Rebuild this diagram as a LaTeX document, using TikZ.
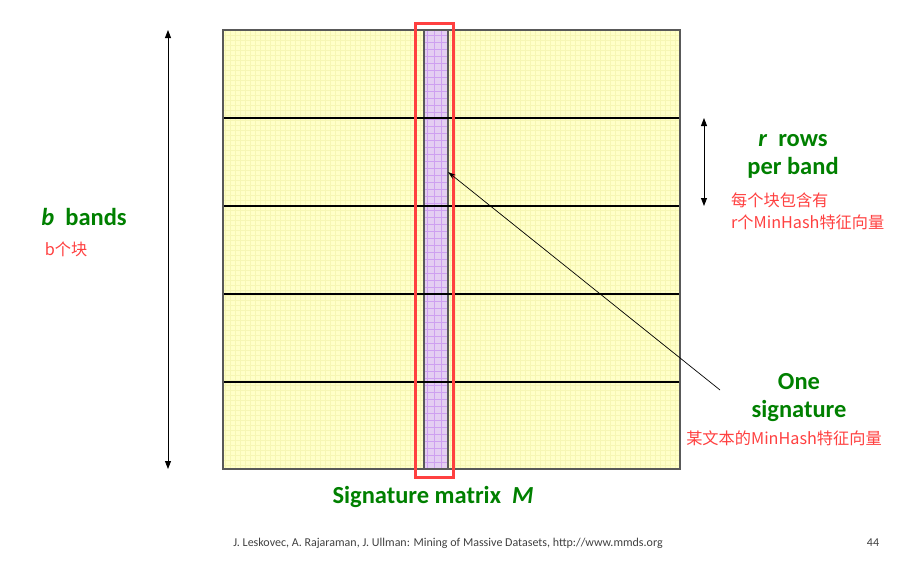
\documentclass[tikz,border=0pt]{standalone}
\usepackage{fontspec}
\setmainfont{Carlito}
\newfontfamily\cjk{Noto Sans CJK SC}
\usetikzlibrary{arrows.meta}
\definecolor{sgreen}{RGB}{0,128,0}
\definecolor{sred}{RGB}{255,64,64}
\definecolor{myyellow}{RGB}{255,255,200}
\definecolor{gridyellow}{RGB}{246,246,180}
\definecolor{mypurple}{RGB}{228,206,242}
\definecolor{gridpurple}{RGB}{206,160,240}
\tikzset{
  greenlbl/.style={text=sgreen, font=\bfseries\fontsize{24.5}{28}\selectfont, align=center, inner sep=0pt},
  redlbl/.style={text=sred, font=\cjk\fontsize{16.2}{22}\selectfont, inner sep=0pt, align=left},
  bandline/.style={line width=1.8pt, black},
  dimarrow/.style={line width=0.9pt, {Triangle[length=8pt,width=6pt]}-{Triangle[length=8pt,width=6pt]}},
}
\begin{document}
\begin{tikzpicture}[x=1pt,y=-1pt]
\useasboundingbox (0,0) rectangle (903,576);
% matrix
\fill[myyellow] (223,30) rectangle (680,469);
\begin{scope}
\clip (223,30) rectangle (680,469);
\draw[gridyellow, line width=0.5pt, step=5pt] (223,30) grid (680,469);
\end{scope}
\coordinate (mTL) at (223,30);
\coordinate (mBR) at (680,469);
% signature column
\fill[mypurple] (424,30) rectangle (448,469);
\begin{scope}
\clip (424,30) rectangle (448,469);
\draw[gridpurple, line width=0.5pt, step=7pt] (424,30) grid (448,469);
\end{scope}
\draw[line width=1.5pt, black!65] (424,30) rectangle (448,469);
\node[inner sep=0pt, minimum width=24pt, minimum height=439pt] (col) at (436,249.5) {};
% band lines
\foreach \yy/\n in {118/1,206/2,294/3,382/4}{
  \coordinate (bl\n) at (223,\yy);
  \coordinate (br\n) at (680,\yy);
  \draw[bandline] (bl\n) -- (br\n);
}
\draw[line width=1.5pt, black!65] (mTL) rectangle (mBR);
% red highlight
\draw[sred, line width=3pt] (415,23) rectangle (453,477);
% dimension arrows
\coordinate (ba) at (168,30);
\coordinate (bb) at (168,469);
\draw[dimarrow] (ba) -- (bb);
\coordinate (ra) at (704,118);
\coordinate (rb) at (704,206);
\draw[dimarrow] (ra) -- (rb);
% labels
\node[greenlbl] (bbands) at (84,217) {\textit{b}\ \ bands};
\node[redlbl] (bge) at (66,249) {b个块};
\node[greenlbl] (rrows) at (793,156) {\textit{r}\ \ rows\\per band};
\node[redlbl, anchor=north west] (rnote) at (731,193) {每个块包含有\\r个MinHash特征向量};
\node[greenlbl] (onesig) at (799,398) {One\\signature};
\node[redlbl] (signote) at (784,438) {某文本的MinHash特征向量};
\node[greenlbl] (title) at (433,497) {Signature matrix\ \ \textit{M}};
\node[text=black!75, font=\fontsize{12}{14}\selectfont, inner sep=0pt] (foot) at (448,543) {J. Leskovec, A. Rajaraman, J. Ullman: Mining of Massive Datasets, http://www.mmds.org};
\node[text=black!75, font=\fontsize{12}{14}\selectfont, inner sep=0pt] (page) at (873,543) {44};
% pointer
\coordinate (ptail) at (720,390);
\coordinate (phead) at (448,172);
\draw[line width=0.7pt, -{Stealth[length=8pt,width=5pt]}] (ptail) -- (phead);
\end{tikzpicture}
\end{document}
